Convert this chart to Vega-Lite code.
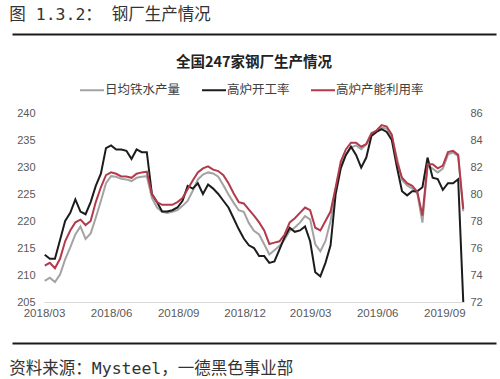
{
  "$schema": "https://vega.github.io/schema/vega-lite/v6.json",
  "background": "white",
  "padding": {"left": 9, "right": 5, "top": 6, "bottom": 2},
  "title": {"text": "图 1.3.2： 钢厂生产情况", "anchor": "start", "fontSize": 16.5, "font": "DejaVu Sans Mono, Noto Sans CJK SC", "fontWeight": "normal", "color": "#333333", "offset": 11},
  "bounds": "flush",
  "center": true,
  "spacing": 41,
  "resolve": {"scale": {"x": "independent", "y": "independent", "color": "independent"}},
  "vconcat": [
    {
      "width": 484,
      "height": 38,
      "data": {"values": [{"v": 0}, {"v": 1}]},
      "mark": {"type": "point", "opacity": 0},
      "encoding": {
        "x": {"field": "v", "type": "quantitative", "scale": {"domain": [0, 1], "nice": false},
          "axis": {"orient": "top", "domain": true, "domainColor": "#1a1a1a", "domainWidth": 2, "ticks": false, "labels": false, "grid": false, "title": null}}
      }
    },
    {
      "width": 420,
      "height": 189,
      "title": {"text": "全国247家钢厂生产情况", "anchor": "middle", "fontSize": 14.5, "fontWeight": "bold", "font": "Noto Sans CJK SC", "color": "#222222", "offset": 6.5},
      "data": {"values": [
        {"date": "2018/03/02", "iron": 208.9, "open": 75.5, "util": 74.7},
        {"date": "2018/03/09", "iron": 209.5, "open": 75.2, "util": 74.9},
        {"date": "2018/03/16", "iron": 208.7, "open": 75.2, "util": 74.5},
        {"date": "2018/03/23", "iron": 210.1, "open": 76.6, "util": 75.2},
        {"date": "2018/03/30", "iron": 212.9, "open": 78.0, "util": 76.5},
        {"date": "2018/04/06", "iron": 215.1, "open": 78.6, "util": 77.3},
        {"date": "2018/04/13", "iron": 217.5, "open": 79.6, "util": 77.9},
        {"date": "2018/04/20", "iron": 219.0, "open": 78.7, "util": 78.1},
        {"date": "2018/04/27", "iron": 216.7, "open": 78.5, "util": 77.7},
        {"date": "2018/05/04", "iron": 217.7, "open": 79.4, "util": 78.0},
        {"date": "2018/05/11", "iron": 220.6, "open": 80.6, "util": 79.4},
        {"date": "2018/05/18", "iron": 223.7, "open": 81.5, "util": 80.5},
        {"date": "2018/05/25", "iron": 227.0, "open": 83.4, "util": 81.4},
        {"date": "2018/06/01", "iron": 228.3, "open": 83.6, "util": 81.6},
        {"date": "2018/06/08", "iron": 228.2, "open": 83.3, "util": 81.5},
        {"date": "2018/06/15", "iron": 227.8, "open": 83.3, "util": 81.3},
        {"date": "2018/06/22", "iron": 227.7, "open": 83.2, "util": 81.3},
        {"date": "2018/06/29", "iron": 227.4, "open": 82.6, "util": 81.2},
        {"date": "2018/07/06", "iron": 228.0, "open": 83.3, "util": 81.5},
        {"date": "2018/07/13", "iron": 228.2, "open": 83.1, "util": 81.6},
        {"date": "2018/07/20", "iron": 228.3, "open": 83.1, "util": 81.65},
        {"date": "2018/07/27", "iron": 224.3, "open": 80.0, "util": 80.0},
        {"date": "2018/08/03", "iron": 222.5, "open": 79.4, "util": 79.4},
        {"date": "2018/08/10", "iron": 221.7, "open": 78.7, "util": 79.2},
        {"date": "2018/08/17", "iron": 221.5, "open": 78.7, "util": 79.2},
        {"date": "2018/08/24", "iron": 221.7, "open": 78.8, "util": 79.2},
        {"date": "2018/08/31", "iron": 222.0, "open": 79.0, "util": 79.4},
        {"date": "2018/09/07", "iron": 222.8, "open": 79.5, "util": 79.7},
        {"date": "2018/09/14", "iron": 223.7, "open": 80.6, "util": 80.35},
        {"date": "2018/09/21", "iron": 225.6, "open": 80.4, "util": 81.0},
        {"date": "2018/09/28", "iron": 227.7, "open": 80.8, "util": 81.6},
        {"date": "2018/10/05", "iron": 228.6, "open": 80.0, "util": 81.9},
        {"date": "2018/10/12", "iron": 229.0, "open": 80.7, "util": 82.05},
        {"date": "2018/10/19", "iron": 228.8, "open": 80.4, "util": 81.8},
        {"date": "2018/10/26", "iron": 228.2, "open": 80.0, "util": 81.7},
        {"date": "2018/11/02", "iron": 226.6, "open": 79.5, "util": 81.4},
        {"date": "2018/11/09", "iron": 224.9, "open": 79.0, "util": 80.8},
        {"date": "2018/11/16", "iron": 223.4, "open": 78.2, "util": 80.05},
        {"date": "2018/11/23", "iron": 222.0, "open": 77.4, "util": 79.4},
        {"date": "2018/11/30", "iron": 221.7, "open": 76.7, "util": 79.3},
        {"date": "2018/12/07", "iron": 219.6, "open": 76.2, "util": 78.85},
        {"date": "2018/12/14", "iron": 218.2, "open": 76.0, "util": 78.4},
        {"date": "2018/12/21", "iron": 217.5, "open": 75.4, "util": 77.9},
        {"date": "2018/12/28", "iron": 215.7, "open": 75.4, "util": 77.3},
        {"date": "2019/01/04", "iron": 213.8, "open": 74.9, "util": 76.3},
        {"date": "2019/01/11", "iron": 214.6, "open": 75.0, "util": 76.4},
        {"date": "2019/01/18", "iron": 215.4, "open": 75.9, "util": 76.5},
        {"date": "2019/01/25", "iron": 216.6, "open": 76.8, "util": 77.0},
        {"date": "2019/02/01", "iron": 218.2, "open": 77.5, "util": 77.9},
        {"date": "2019/02/08", "iron": 218.8, "open": 77.2, "util": 78.2},
        {"date": "2019/02/15", "iron": 219.7, "open": 77.3, "util": 78.6},
        {"date": "2019/02/22", "iron": 220.9, "open": 77.6, "util": 79.0},
        {"date": "2019/03/01", "iron": 220.3, "open": 76.5, "util": 78.8},
        {"date": "2019/03/08", "iron": 215.7, "open": 74.2, "util": 77.5},
        {"date": "2019/03/15", "iron": 214.4, "open": 73.9, "util": 77.3},
        {"date": "2019/03/22", "iron": 216.3, "open": 74.9, "util": 78.0},
        {"date": "2019/03/29", "iron": 220.0, "open": 76.2, "util": 78.7},
        {"date": "2019/04/05", "iron": 225.9, "open": 80.0, "util": 80.5},
        {"date": "2019/04/12", "iron": 230.2, "open": 81.9, "util": 82.4},
        {"date": "2019/04/19", "iron": 232.2, "open": 82.9, "util": 83.3},
        {"date": "2019/04/26", "iron": 233.6, "open": 83.5, "util": 83.8},
        {"date": "2019/05/03", "iron": 234.0, "open": 82.9, "util": 83.8},
        {"date": "2019/05/10", "iron": 233.3, "open": 81.95, "util": 83.5},
        {"date": "2019/05/17", "iron": 234.2, "open": 82.7, "util": 83.7},
        {"date": "2019/05/24", "iron": 235.9, "open": 84.3, "util": 84.5},
        {"date": "2019/05/31", "iron": 236.7, "open": 84.6, "util": 84.7},
        {"date": "2019/06/07", "iron": 237.3, "open": 84.8, "util": 85.1},
        {"date": "2019/06/14", "iron": 237.1, "open": 84.6, "util": 85.0},
        {"date": "2019/06/21", "iron": 235.6, "open": 84.0, "util": 84.4},
        {"date": "2019/06/28", "iron": 231.7, "open": 82.0, "util": 82.4},
        {"date": "2019/07/05", "iron": 227.6, "open": 80.2, "util": 81.2},
        {"date": "2019/07/12", "iron": 226.6, "open": 79.9, "util": 80.8},
        {"date": "2019/07/19", "iron": 226.0, "open": 80.2, "util": 80.6},
        {"date": "2019/07/26", "iron": 225.1, "open": 80.2, "util": 80.15},
        {"date": "2019/08/02", "iron": 219.7, "open": 80.5, "util": 78.4},
        {"date": "2019/08/09", "iron": 230.2, "open": 82.7, "util": 82.2},
        {"date": "2019/08/16", "iron": 229.7, "open": 81.2, "util": 82.2},
        {"date": "2019/08/23", "iron": 229.0, "open": 81.1, "util": 81.9},
        {"date": "2019/08/30", "iron": 229.7, "open": 80.3, "util": 82.1},
        {"date": "2019/09/06", "iron": 232.3, "open": 80.8, "util": 83.1},
        {"date": "2019/09/13", "iron": 232.7, "open": 80.8, "util": 83.2},
        {"date": "2019/09/20", "iron": 232.0, "open": 81.1, "util": 82.9},
        {"date": "2019/09/27", "iron": 221.8, "open": 72.0, "util": 78.9}
      ]},
      "transform": [{"fold": ["iron", "open", "util"], "as": ["series", "value"]}],
      "encoding": {
        "x": {
          "field": "date", "type": "temporal",
          "scale": {"domain": [{"year": 2018, "month": 3, "date": 1}, {"year": 2019, "month": 9, "date": 28}]},
          "axis": {
            "values": [
              {"year": 2018, "month": 3, "date": 1}, {"year": 2018, "month": 6, "date": 1},
              {"year": 2018, "month": 9, "date": 1}, {"year": 2018, "month": 12, "date": 1},
              {"year": 2019, "month": 3, "date": 1}, {"year": 2019, "month": 6, "date": 1},
              {"year": 2019, "month": 9, "date": 1}
            ],
            "format": "%Y/%m", "labelFlush": false, "labelOverlap": false,
            "ticks": false, "tickSize": 0, "labelPadding": 5, "grid": false,
            "domainColor": "#d9d9d9", "domainWidth": 1,
            "labelFont": "Liberation Sans", "labelFontSize": 11.5, "labelColor": "#595959", "title": null
          }
        },
        "color": {
          "field": "series", "type": "nominal",
          "scale": {"domain": ["iron", "open", "util"], "range": ["#a3a3a3", "#1c1c1c", "#b23a4a"]},
          "legend": {
            "orient": "none", "legendX": 35, "legendY": -36, "direction": "horizontal",
            "title": null, "symbolType": "stroke", "symbolStrokeWidth": 2, "symbolSize": 576,
            "labelFont": "Noto Sans CJK SC", "labelFontSize": 12.5, "labelColor": "#404040",
            "labelOffset": 0, "columnPadding": 17, "padding": 0,
            "labelExpr": "{'iron': '日均铁水产量', 'open': '高炉开工率', 'util': '高炉产能利用率'}[datum.label]"
          }
        }
      },
      "layer": [
        {
          "transform": [{"filter": "datum.series === 'iron'"}],
          "mark": {"type": "line", "strokeWidth": 2},
          "encoding": {
            "y": {
              "field": "value", "type": "quantitative",
              "scale": {"domain": [205, 240], "nice": false, "zero": false},
              "axis": {"values": [205, 210, 215, 220, 225, 230, 235, 240], "domain": false, "ticks": false, "grid": false,
                "labelPadding": 9, "labelFont": "Liberation Sans", "labelFontSize": 11, "labelColor": "#595959", "title": null}
            }
          }
        },
        {
          "transform": [{"filter": "datum.series !== 'iron'"}],
          "mark": {"type": "line", "strokeWidth": 2},
          "encoding": {
            "y": {
              "field": "value", "type": "quantitative",
              "scale": {"domain": [72, 86], "nice": false, "zero": false},
              "axis": {"orient": "right", "values": [72, 74, 76, 78, 80, 82, 84, 86], "domain": false, "ticks": false, "grid": false,
                "labelPadding": 6, "labelFont": "Liberation Sans", "labelFontSize": 11, "labelColor": "#595959", "title": null}
            }
          }
        }
      ],
      "resolve": {"scale": {"y": "independent"}}
    },
    {
      "width": 484,
      "height": 1,
      "title": {"text": "资料来源：Mysteel，一德黑色事业部", "orient": "bottom", "anchor": "start", "fontSize": 16.5, "font": "DejaVu Sans Mono, Noto Sans CJK SC", "fontWeight": "normal", "color": "#333333", "offset": 15},
      "data": {"values": [{"v": 0}, {"v": 1}]},
      "mark": {"type": "point", "opacity": 0},
      "encoding": {
        "x": {"field": "v", "type": "quantitative", "scale": {"domain": [0, 1], "nice": false},
          "axis": {"orient": "top", "domain": true, "domainColor": "#1a1a1a", "domainWidth": 2, "ticks": false, "labels": false, "grid": false, "title": null}}
      }
    }
  ],
  "config": {"view": {"stroke": null}}
}
